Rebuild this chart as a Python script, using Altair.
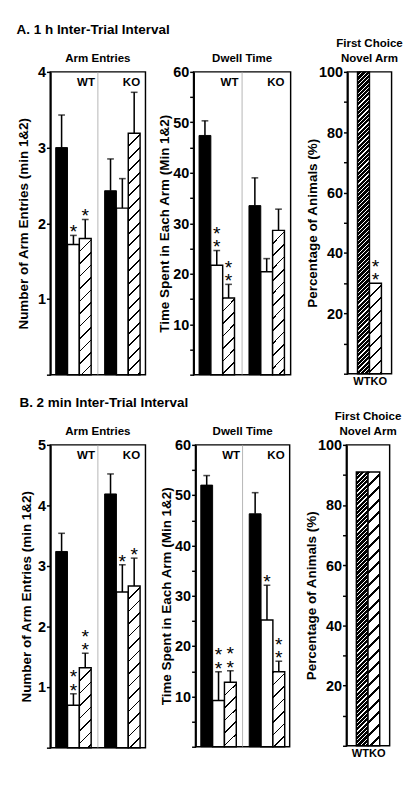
import altair as alt
import pandas as pd

FONT = "Liberation Sans, Arial, Helvetica, sans-serif"

genotypes = ["WT", "KO"]
conditions = ["solid", "open", "hatched"]

# ---- A. 1 h inter-trial interval ----
a_entries_wt = [3.00, 1.72, 1.80]
a_entries_ko = [2.43, 2.20, 3.19]
a_entries_wt_err = [0.43, 0.12, 0.25]
a_entries_ko_err = [0.42, 0.39, 0.54]
a_entries_wt_sig = ["", "*", "*"]
a_entries_ko_sig = ["", "", ""]

a_dwell_wt = [47.4, 21.7, 15.2]
a_dwell_ko = [33.5, 20.4, 28.6]
a_dwell_wt_err = [2.9, 2.9, 2.7]
a_dwell_ko_err = [5.5, 2.6, 4.2]
a_dwell_wt_sig = ["", "**", "**"]
a_dwell_ko_sig = ["", "", ""]

a_first_choice = [100, 30]
a_first_choice_sig = ["", "**"]

# ---- B. 2 min inter-trial interval ----
b_entries_wt = [3.24, 0.70, 1.32]
b_entries_ko = [4.19, 2.57, 2.67]
b_entries_wt_err = [0.30, 0.19, 0.24]
b_entries_ko_err = [0.33, 0.45, 0.46]
b_entries_wt_sig = ["", "**", "**"]
b_entries_ko_sig = ["", "*", "*"]

b_dwell_wt = [52.0, 9.2, 12.8]
b_dwell_ko = [46.3, 25.2, 14.9]
b_dwell_wt_err = [1.9, 5.7, 2.3]
b_dwell_ko_err = [4.2, 6.9, 2.1]
b_dwell_wt_sig = ["", "**", "**"]
b_dwell_ko_sig = ["", "*", "**"]

b_first_choice = [91, 91]
b_first_choice_sig = ["", ""]


def build_df(wt, ko, wt_err, ko_err, wt_sig, ko_sig):
    rows = []
    for g, means, errs, sigs in [("WT", wt, wt_err, wt_sig), ("KO", ko, ko_err, ko_sig)]:
        for c, m, e, s in zip(conditions, means, errs, sigs):
            rows.append(dict(genotype=g, condition=c, mean=m, top=m + e,
                             s1="*" if len(s) >= 1 else "", s2="*" if len(s) >= 2 else ""))
    return pd.DataFrame(rows)


def hatch(w, h, period, line, fg, bg):
    """Diagonal '/' stripes via a hard-stop linear gradient (bbox units)."""
    L = w + h
    lam = L / (w * w + h * h)
    stops = []
    pos = 0.0
    while pos < L - 1e-9:
        a = round(pos / L, 5)
        b = round(min(pos + line, L) / L, 5)
        c = round(min(pos + period, L) / L, 5)
        stops += [{"offset": a, "color": fg}, {"offset": b, "color": fg},
                  {"offset": b, "color": bg}, {"offset": c, "color": bg}]
        pos += period
    return {"gradient": "linear", "x1": 0, "y1": 0,
            "x2": round(lam * w, 6), "y2": round(lam * h, 6), "stops": stops}


def y_axis(ymax, minor, major, title_pad=1):
    n = int(round(ymax / minor))
    vals = [round(i * minor, 3) for i in range(n + 1)]
    return alt.Axis(values=vals, format="d",
                    labelExpr=f"datum.value % {major} == 0 && datum.value > 0 ? datum.label : ''",
                    tickSize=4, tickWidth=1.5, domainWidth=2, labelFontSize=15,
                    titleFontSize=14, labelPadding=1, titlePadding=title_pad,
                    minExtent=0, labelOverlap=False, labelFlush=False, grid=False)


def star_layers(base, enc, yfield_enc):
    out = []
    for field, dy in [("s1", -3), ("s2", -17)]:
        out.append(
            base.transform_filter(alt.datum[field] != "")
            .mark_text(baseline="middle", fontSize=20, font=FONT, color="black", dy=dy)
            .encode(y=yfield_enc, text=f"{field}:N", **enc)
        )
    return out


def bar_panel(df, ymax, minor, major, ytitle, ptitle, W, H, title_pad=1):
    pi, po = 0.275, 0.11
    step = W / (2 - pi + 2 * po)
    bw = step * (1 - pi) / 3
    xs = alt.Scale(domain=genotypes, paddingInner=pi, paddingOuter=po)
    x = alt.X("genotype:N", scale=xs, axis=None)
    xo = alt.XOffset("condition:N",
                     scale=alt.Scale(domain=conditions, paddingInner=0, paddingOuter=0))
    ys = alt.Scale(domain=[0, ymax], nice=False, zero=True)
    yax = y_axis(ymax, minor, major, title_pad)
    ym = alt.Y("mean:Q", scale=ys, axis=yax, title=ytitle)
    yt = alt.Y("top:Q", scale=ys, axis=yax, title=ytitle)
    base = alt.Chart(df)

    layers = []
    layers.append(
        alt.Chart(pd.DataFrame({"d": [0]})).mark_rule(color="#a0a0a0", strokeWidth=0.8)
        .encode(x=alt.value(W / 2), y=alt.value(0), y2=alt.value(H))
    )
    layers.append(
        base.mark_rule(color="black", strokeWidth=1.6)
        .encode(x=x, xOffset=xo, y=ym, y2="top:Q")
    )
    layers.append(
        base.mark_tick(color="black", thickness=1.6, size=7)
        .encode(x=x, xOffset=xo, y=yt)
    )
    layers.append(
        base.transform_filter(alt.datum.condition == "solid")
        .mark_bar(fill="black", stroke="black", strokeWidth=1)
        .encode(x=x, xOffset=xo, y=ym)
    )
    layers.append(
        base.transform_filter(alt.datum.condition == "open")
        .mark_bar(fill="white", stroke="black", strokeWidth=1.5)
        .encode(x=x, xOffset=xo, y=ym)
    )
    for g in genotypes:
        val = float(df[(df.genotype == g) & (df.condition == "hatched")]["mean"].iloc[0])
        h = val / ymax * H
        layers.append(
            base.transform_filter((alt.datum.condition == "hatched") & (alt.datum.genotype == g))
            .mark_bar(fill=hatch(bw, h, 13, 1.7, "black", "white"), stroke="black", strokeWidth=1.5)
            .encode(x=x, xOffset=xo, y=ym)
        )
    layers += star_layers(base, {"x": x, "xOffset": xo}, yt)
    # WT / KO group labels at the top right of each half
    for g, extra in [("WT", 4), ("KO", 0)]:
        layers.append(
            base.transform_filter((alt.datum.genotype == g) & (alt.datum.condition == "hatched"))
            .mark_text(align="right", baseline="top", fontSize=12, fontWeight="bold",
                       font=FONT, color="black", dx=bw / 2 + extra)
            .encode(x=x, xOffset=xo, y=alt.value(6), text="genotype:N")
        )
    return alt.layer(*layers).properties(
        width=W, height=H,
        title=alt.TitleParams(ptitle, fontSize=12, fontWeight="bold", font=FONT, offset=0),
    )


def choice_panel(values, sigs, ytitle, W, H, dark_line, ko_line, title_pad=0):
    po = 0.85
    step = W / (2 + 2 * po)
    bw = step
    df = pd.DataFrame({"genotype": genotypes, "pct": values,
                       "s1": ["*" if len(s) >= 1 else "" for s in sigs],
                       "s2": ["*" if len(s) >= 2 else "" for s in sigs]})
    xs = alt.Scale(domain=genotypes, paddingInner=0, paddingOuter=po)
    x = alt.X("genotype:N", scale=xs, axis=None)
    ys = alt.Scale(domain=[0, 100], nice=False)
    yax = y_axis(100, 10, 20, title_pad=title_pad)
    y = alt.Y("pct:Q", scale=ys, axis=yax, title=ytitle)
    base = alt.Chart(df)
    layers = []
    fills = {
        "WT": hatch(bw, values[0] / 100 * H, 4.5, dark_line, "white", "black"),
        "KO": hatch(bw, values[1] / 100 * H, 13, ko_line, "black", "white"),
    }
    for g in genotypes:
        layers.append(
            base.transform_filter(alt.datum.genotype == g)
            .mark_bar(fill=fills[g], stroke="black", strokeWidth=1.5)
            .encode(x=x, y=y)
        )
    layers += star_layers(base, {"x": x}, y)
    # category labels under the bars (WT right-aligned, KO left-aligned, as in the figure)
    for g, al, ddx in [("WT", "right", bw / 2 + 1), ("KO", "left", -bw / 2 + 1)]:
        layers.append(
            base.transform_filter(alt.datum.genotype == g)
            .mark_text(align=al, baseline="top", fontSize=11.5, fontWeight="bold",
                       font=FONT, color="black", dx=ddx)
            .encode(x=x, y=alt.value(H + 3), text="genotype:N")
        )
    return alt.layer(*layers).properties(
        width=W, height=H,
        title=alt.TitleParams(["First Choice", "Novel Arm"], fontSize=12, fontWeight="bold",
                              font=FONT, offset=0, lineHeight=16),
    )


ENT_T = "Number of Arm  Entries (min 1&2)"
DW_T = "Time Spent in Each Arm (Min 1&2)"
PCT_T = "Percentage of Animals (%)"

a1 = bar_panel(build_df(a_entries_wt, a_entries_ko, a_entries_wt_err, a_entries_ko_err,
                        a_entries_wt_sig, a_entries_ko_sig),
               4, 0.5, 1, ENT_T, "Arm Entries", 99, 315, title_pad=7)
a2 = bar_panel(build_df(a_dwell_wt, a_dwell_ko, a_dwell_wt_err, a_dwell_ko_err,
                        a_dwell_wt_sig, a_dwell_ko_sig),
               60, 5, 10, DW_T, "Dwell Time", 101, 315)
a3 = choice_panel(a_first_choice, a_first_choice_sig, PCT_T, 46, 314, 1.2, 2.2, title_pad=-1)

b1 = bar_panel(build_df(b_entries_wt, b_entries_ko, b_entries_wt_err, b_entries_ko_err,
                        b_entries_wt_sig, b_entries_ko_sig),
               5, 0.5, 1, ENT_T, "Arm Entries", 99, 315, title_pad=4)
b2 = bar_panel(build_df(b_dwell_wt, b_dwell_ko, b_dwell_wt_err, b_dwell_ko_err,
                        b_dwell_wt_sig, b_dwell_ko_sig),
               60, 5, 10, DW_T, "Dwell Time", 98, 314)
b3 = choice_panel(b_first_choice, b_first_choice_sig, PCT_T, 45, 313, 1.2, 3, title_pad=-1)

row_a = alt.hconcat(alt.hconcat(a1, a2, spacing=11), a3, spacing=14).properties(
    title=alt.TitleParams("A. 1 h Inter-Trial Interval", anchor="start", fontSize=14,
                          fontWeight="bold", font=FONT, offset=0)
)
row_b = alt.hconcat(alt.hconcat(b1, b2, spacing=13), b3, spacing=14).properties(
    title=alt.TitleParams("B. 2 min Inter-Trial Interval", anchor="start", fontSize=14,
                          fontWeight="bold", font=FONT, offset=0)
)

chart = (
    alt.vconcat(row_a, row_b, spacing=7)
    .properties(padding={"left": 8, "top": 0, "right": 2, "bottom": 0}, background="white")
    .configure_view(stroke="black", strokeWidth=1.5)
    .configure_axis(labelFont=FONT, titleFont=FONT, labelFontWeight="bold",
                    titleFontWeight="bold", labelColor="black", titleColor="black",
                    domainColor="black", tickColor="black")
    .configure_title(color="black", font=FONT)
)

chart.save("out.html", embed_options={"renderer": "svg", "actions": False})
